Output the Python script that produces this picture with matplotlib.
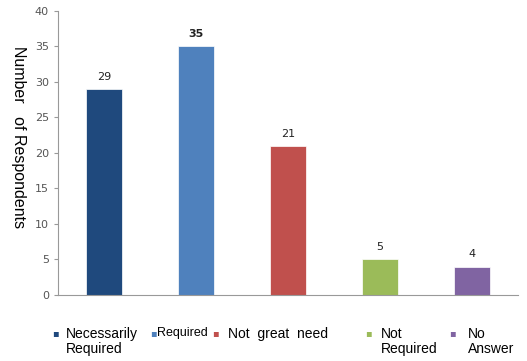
import matplotlib.pyplot as plt

# answers to the survey question
categories = ['Necessarily\nRequired', 'Required', 'Not  great  need', 'Not\nRequired', 'No\nAnswer']
counts = [29, 35, 21, 5, 4]
colors = ['#1F497D', '#4F81BD', '#C0504D', '#9BBB59', '#8064A2']
y_ticks = [0, 5, 10, 15, 20, 25, 30, 35, 40]

fig = plt.figure(figsize=(5.27, 3.61), dpi=100)
ax = fig.add_axes([0.110, 0.183, 0.873, 0.787])

x = list(range(len(counts)))
ax.bar(x, counts, width=0.4, color=colors, edgecolor='white', linewidth=0.5)
for i, v in enumerate(counts):
    ax.text(i, v + 1.0, str(v), ha='center', va='bottom', fontsize=8,
            fontweight='bold' if v == 35 else 'normal', color='#222222')

ax.set_xlim(-0.5, len(counts) - 0.5)
ax.set_ylim(0, 40)
ax.set_yticks(y_ticks)
ax.tick_params(axis='y', labelsize=8, labelcolor='#555555', color='#999999', length=3)
ax.set_xticks([])
for s in ['top', 'right']:
    ax.spines[s].set_visible(False)
ax.spines['left'].set_color('#999999')
ax.spines['bottom'].set_color('#999999')

fig.text(18 / 527, 1 - 137 / 361, 'Number   of Respondents', rotation=270,
         ha='center', va='center', fontsize=11.5, family='Liberation Sans')

# hand-placed legend, the entries are spaced unevenly in the original
marker_x = [55, 153, 215, 368, 452]
text_x = [66, 157, 228, 381, 468]
sizes = [10, 9, 10, 10, 10]
for mx, tx, c, lab, fs in zip(marker_x, text_x, colors, categories, sizes):
    fig.text(mx / 527, 1 - 333 / 361, '\u25aa', color=c, fontsize=7,
             ha='center', va='center')
    fig.text(tx / 527, 1 - 327 / 361, lab, fontsize=fs, ha='left', va='top',
             family='Liberation Sans', linespacing=1.05)

fig.savefig('out.png')
